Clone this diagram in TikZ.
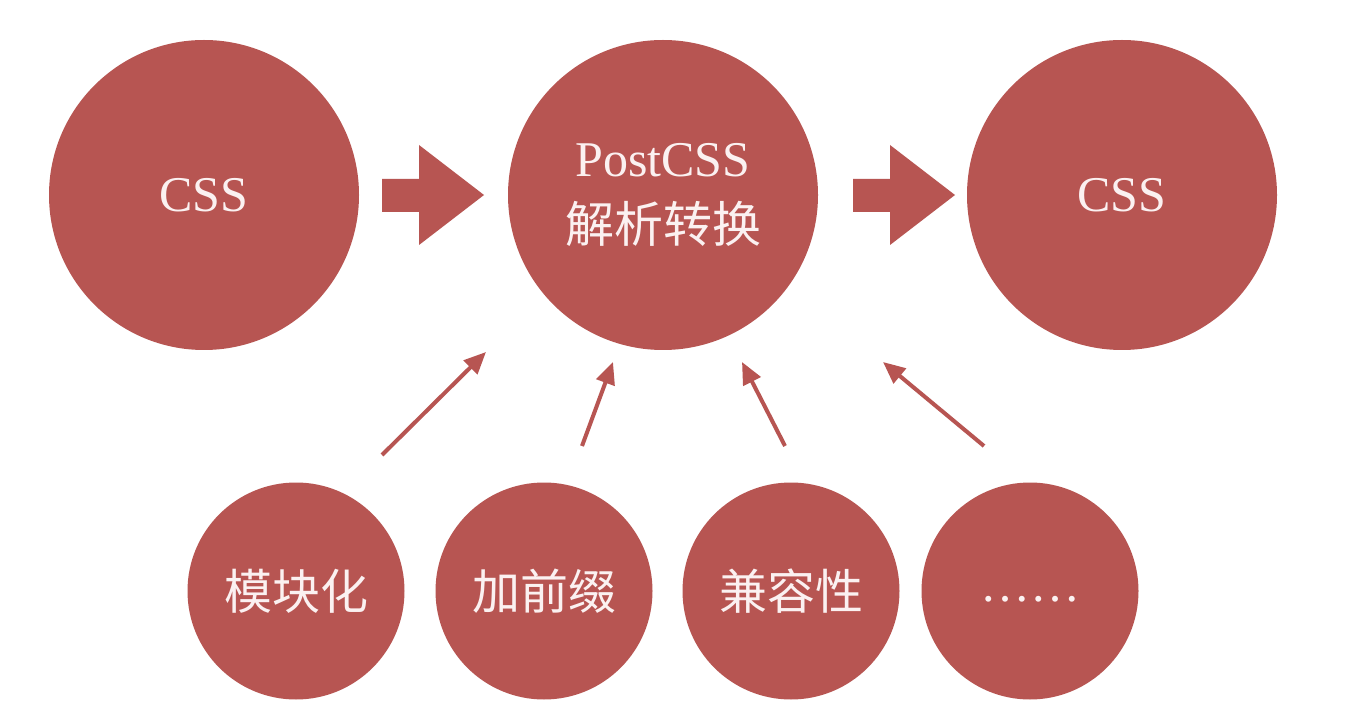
\documentclass[tikz,border=0pt]{standalone}
\usepackage{fontspec}
\setmainfont{Liberation Serif}
\newfontfamily\cjk{Noto Sans CJK SC}
\usetikzlibrary{arrows.meta}
\definecolor{brick}{HTML}{B75552}
\definecolor{txt}{HTML}{FBF1F1}
\tikzset{
  bigball/.style={circle, fill=brick, minimum size=310pt, inner sep=0pt, text=txt, font=\fontsize{50}{68}\selectfont, align=center},
  smallball/.style={circle, fill=brick, minimum size=217pt, inner sep=0pt, text=txt, font=\cjk\fontsize{48}{50}\selectfont},
  blockarrow/.style={fill=brick, draw=none},
  feed/.style={draw=brick, line width=4pt, -{Triangle[length=22pt,width=19pt]}}
}
\begin{document}
\begin{tikzpicture}[x=1pt,y=-1pt]
\useasboundingbox (0,0) rectangle (1360,708);
\fill[white] (0,0) rectangle (1360,708);
\node[bigball] (css1) at (204,195) {CSS};
\node[bigball] (post) at (663,195) {\raisebox{-2pt}{PostCSS}\\[-2pt]{\cjk\fontsize{49}{50}\selectfont\raisebox{-2pt}{解析转换}}};
\node[bigball] (css2) at (1122,195) {CSS};
\node[smallball] (m1) at (296,591) {模块化};
\node[smallball] (m2) at (544,591) {加前缀};
\node[smallball] (m3) at (791,591) {兼容性};
\node[smallball, font=\fontsize{50}{50}\selectfont] (m4) at (1030,591) {\raisebox{-22pt}{……}};
% block arrows
\fill[blockarrow] (382,179) -- (419,179) -- (419,145) -- (484,195) -- (419,245) -- (419,212) -- (382,212) -- cycle;
\fill[blockarrow] (853,179) -- (890,179) -- (890,145) -- (955,195) -- (890,245) -- (890,212) -- (853,212) -- cycle;
% feed arrows
\coordinate (t1) at (382,455); \coordinate (h1) at (486,352);
\coordinate (t2) at (582,446); \coordinate (h2) at (613,362);
\coordinate (t3) at (785,446); \coordinate (h3) at (742,362);
\coordinate (t4) at (984,446); \coordinate (h4) at (883,362);
\draw[feed] (t1) -- (h1);
\draw[feed] (t2) -- (h2);
\draw[feed] (t3) -- (h3);
\draw[feed] (t4) -- (h4);
\end{tikzpicture}
\end{document}
